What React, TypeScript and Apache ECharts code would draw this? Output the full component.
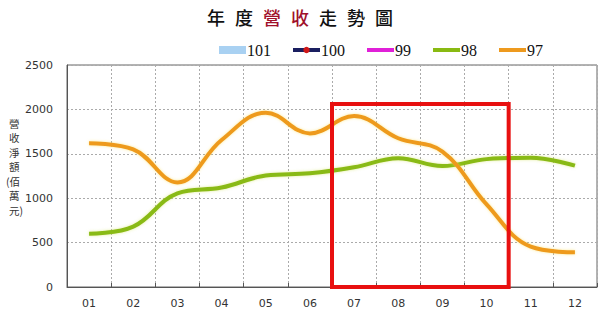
import React, { useEffect, useRef } from "react";
import * as echarts from "echarts";

const months = ["01", "02", "03", "04", "05", "06", "07", "08", "09", "10", "11", "12"];
const legendNames = ["101", "100", "99", "98", "97"];
const s101: number[] = [];
const s100: number[] = [];
const s99: number[] = [];
const s98 = [600, 680, 1055, 1120, 1255, 1280, 1348, 1450, 1362, 1440, 1456, 1366];
const s97 = [1620, 1550, 1178, 1655, 1963, 1730, 1925, 1675, 1525, 930, 455, 390];
const yTicks = [0, 500, 1000, 1500, 2000, 2500];
const titleChars = ["年", "度", "營", "收", "走", "勢", "圖"];
const titleRed = [false, false, true, true, false, false, false];
const yNameParts = ["營", "收", "淨", "額", "(佰", "萬", "元)"];
const boxFrom = 6; // index of "07"
const boxTo = 9; // index of "10"
const boxTop = 2060;

export default function App() {
  const ref = useRef<HTMLDivElement>(null);
  useEffect(() => {
    if (!ref.current) return;
    const chart = echarts.init(ref.current, null, { renderer: "svg" });
    const serif = "'Liberation Serif', 'DejaVu Serif', serif";
    const sans = "'DejaVu Sans', Verdana, sans-serif";
    const cjk = "'Noto Sans CJK TC', sans-serif";
    const titleText = titleChars.map((c, i) => `{${titleRed[i] ? "r" : "b"}|${c}}`).join("");
    const yNameTexts = yNameParts.map((t, i) => ({
      type: "text",
      x: t.startsWith("(") ? 6 : 9,
      y: 118 + i * 14.5,
      style: { text: t, fontSize: 10.5, fill: "#333", fontFamily: cjk, textVerticalAlign: "top" },
    }));
    const hideDot = { itemStyle: { opacity: 0 } };
    chart.setOption({
      animation: false,
      backgroundColor: "#ffffff",
      title: {
        left: "center",
        top: 3,
        text: titleText,
        textStyle: {
          rich: {
            b: { fontSize: 18, fontWeight: 500, color: "#111", fontFamily: cjk, padding: [0, 5] },
            r: { fontSize: 18, fontWeight: 500, color: "#a0102a", fontFamily: cjk, padding: [0, 5] },
          },
        },
      },
      legend: {
        top: 37,
        left: 214,
        itemWidth: 27,
        itemHeight: 8,
        itemGap: 20,
        lineStyle: { width: 4 },
        textStyle: { fontFamily: serif, fontSize: 16, color: "#111", padding: [0, 0, 0, -4] },
        data: [
          { name: legendNames[0], icon: "rect" },
          { name: legendNames[1] },
          { name: legendNames[2], ...hideDot },
          { name: legendNames[3], ...hideDot },
          { name: legendNames[4], ...hideDot },
        ],
      },
      grid: { left: 67, right: 3, top: 65, bottom: 32, show: true, borderColor: "#666", borderWidth: 1 },
      xAxis: {
        type: "category",
        data: months,
        boundaryGap: true,
        axisLine: { lineStyle: { color: "#555" } },
        axisTick: { show: true, inside: true, length: 4, lineStyle: { color: "#555" } },
        axisLabel: { color: "#333", fontFamily: sans, fontSize: 11, margin: 11 },
        splitLine: { show: true, lineStyle: { color: "#aaa", type: [2, 2] } },
      },
      yAxis: {
        type: "value",
        min: yTicks[0],
        max: yTicks[yTicks.length - 1],
        interval: 500,
        axisLine: { show: true, lineStyle: { color: "#555" } },
        axisTick: { show: false },
        axisLabel: { color: "#333", fontFamily: sans, fontSize: 11, margin: 14, formatter: (v: number) => String(v) },
        splitLine: { show: true, lineStyle: { color: "#aaa", type: [2, 2] } },
      },
      graphic: yNameTexts,
      series: [
        { name: legendNames[0], type: "bar", data: s101, itemStyle: { color: "#a9d1f2" } },
        {
          name: legendNames[1],
          type: "line",
          data: s100,
          symbol: "circle",
          symbolSize: 8,
          itemStyle: { color: "#d01818" },
          lineStyle: { color: "#1a1f60", width: 4 },
        },
        { name: legendNames[2], type: "line", data: s99, symbol: "none", itemStyle: { color: "#e020d8" }, lineStyle: { color: "#e020d8", width: 4 } },
        {
          name: legendNames[3],
          type: "line",
          data: s98,
          smooth: 0.4,
          symbol: "none",
          itemStyle: { color: "#89ba12" },
          lineStyle: { color: "#89ba12", width: 4, shadowColor: "rgba(200,220,60,0.5)", shadowBlur: 3 },
        },
        {
          name: legendNames[4],
          type: "line",
          data: s97,
          smooth: 0.4,
          symbol: "none",
          itemStyle: { color: "#ee9a1e" },
          lineStyle: { color: "#ee9a1e", width: 4, shadowColor: "rgba(250,220,80,0.6)", shadowBlur: 3 },
        },
      ],
    });
    const x0 = chart.convertToPixel({ xAxisIndex: 0 }, boxFrom - 1) as number;
    const x1 = chart.convertToPixel({ xAxisIndex: 0 }, boxFrom) as number;
    const x2 = chart.convertToPixel({ xAxisIndex: 0 }, boxTo) as number;
    const x3 = chart.convertToPixel({ xAxisIndex: 0 }, boxTo + 1) as number;
    const yTop = chart.convertToPixel({ yAxisIndex: 0 }, boxTop) as number;
    const yBot = chart.convertToPixel({ yAxisIndex: 0 }, 0) as number;
    const left = (x0 + x1) / 2;
    const right = (x2 + x3) / 2;
    chart.setOption({
      graphic: [
        ...yNameTexts,
        {
          type: "rect",
          shape: { x: left, y: yTop, width: right - left, height: yBot - yTop },
          style: { fill: "none", stroke: "#e81010", lineWidth: 4 },
          z: 100,
        },
      ],
    });
    return () => chart.dispose();
  }, []);
  return <div ref={ref} style={{ width: 600, height: 319, position: "absolute", left: 0, top: 0 }} />;
}
